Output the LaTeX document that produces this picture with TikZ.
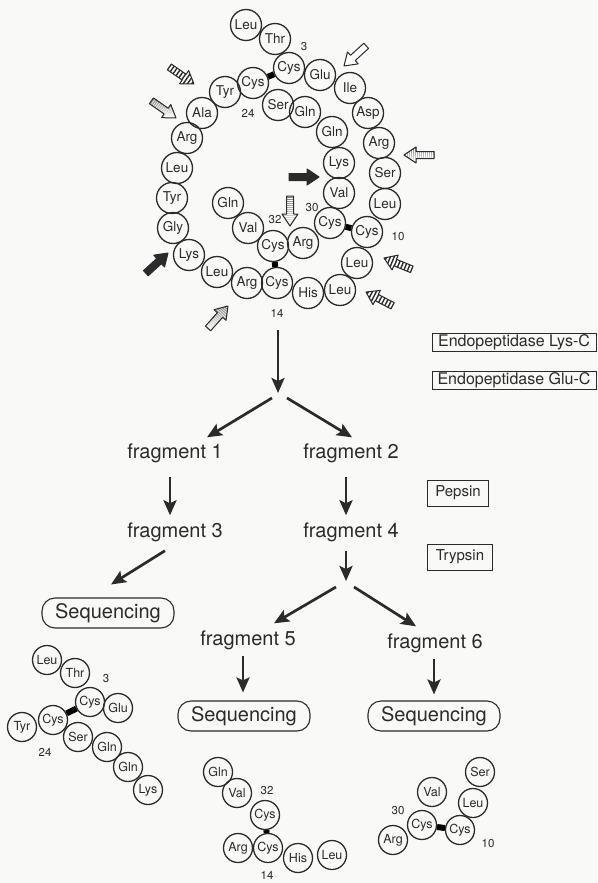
\documentclass[tikz,border=0pt]{standalone}
\usepackage{fontspec}
\setmainfont{TeX Gyre Heros}
\usetikzlibrary{arrows.meta,calc}
\definecolor{ink}{HTML}{2B2B2B}
\definecolor{paper}{HTML}{F9F9F7}
\definecolor{shade}{HTML}{8C8C8C}

% block arrow pointing along +x, tip at the origin
\newcommand{\markpath}{(0,0) -- (-12,-8) -- (-12,-3.5) -- (-30,-3.5) -- (-30,3.5) -- (-12,3.5) -- (-12,8) -- cycle}
% cleavage mark: tip, direction, fill
\newcommand{\cutmark}[3]{%
  \begin{scope}[shift={#1},rotate=#2]
    \filldraw[fill=#3,draw=ink,line width=1pt,line join=round] \markpath;
  \end{scope}}
% striped cleavage mark: tip, direction, fill, stripe style, second stripe position
\newcommand{\stripemark}[5]{%
  \begin{scope}[shift={#1},rotate=#2]
    \fill[#3] \markpath;
    \begin{scope}
      \clip \markpath;
      \foreach \s in {-30,#5,...,0} \draw[#4] (\s,-9) -- (\s,9);
    \end{scope}
    \draw[ink,line width=1pt,line join=round] \markpath;
  \end{scope}}

\begin{document}
\begin{tikzpicture}[x=1pt,y=-1pt,>={Stealth[length=15pt,width=13pt,inset=3pt]}]
\tikzset{
  res/.style={circle,draw=ink,line width=1.3pt,minimum size=31pt,inner sep=0pt,
    font=\fontsize{13.5}{13.5}\selectfont,text=ink},
  ressm/.style={res,minimum size=29pt,font=\fontsize{12.5}{12.5}\selectfont},
  num/.style={font=\fontsize{11.5}{11.5}\selectfont,text=ink,inner sep=0pt},
  bond/.style={line width=6pt,black},
  frag/.style={font=\fontsize{20}{22}\selectfont,text=ink,inner sep=2pt},
  seqbox/.style={draw=ink,line width=1.1pt,rounded corners=13pt,minimum width=132pt,
    minimum height=30pt,font=\fontsize{20}{22}\selectfont,text=ink,inner sep=0pt},
  enzyme/.style={draw=ink,line width=1pt,font=\fontsize{16}{16}\selectfont,text=ink,
    inner sep=0pt,minimum height=18pt,minimum width=164pt},
  agent/.style={draw=ink,line width=1pt,font=\fontsize{15}{15}\selectfont,text=ink,
    inner xsep=8pt,minimum height=26pt},
  flow/.style={->,ink,line width=2.7pt}
}
\useasboundingbox (0,0) rectangle (597,883);
\fill[paper] (0,0) rectangle (597,883);

% the cyclic peptide
\foreach \n/\aa/\x/\y in {1/Leu/246/25,2/Thr/275/39,3/Cys/289/68,4/Glu/320/75,
  5/Ile/350/88,6/Asp/368/113,7/Arg/379/143,8/Ser/385/173,9/Leu/385/204,
  10/Cys/367/232,11/Leu/357/263,12/Leu/340/290,13/His/308/293,14/Cys/277/283,
  15/Arg/247/283,16/Leu/217/272,17/Lys/189/255,18/Gly/173/228,19/Tyr/172/198,
  20/Leu/177/168,21/Arg/187/138,22/Ala/202/113,23/Tyr/225/92,24/Cys/253/83,
  25/Ser/278/105,26/Gln/305/112,27/Gln/332/132,28/Lys/339/163,29/Val/339/193,
  30/Cys/330/223,31/Arg/303/243,32/Cys/273/246,33/Val/248/228,34/Gln/228/203}
  \node[res] (r\n) at (\x,\y) {\aa};
\draw[bond] (r24) -- (r3);
\draw[bond] (r30) -- (r10);
\draw[bond] (r32) -- (r14);
\node[num] (n3) at (304,47) {3};
\node[num] (n24) at (248,113) {24};
\node[num] (n32) at (275,220) {32};
\node[num] (n30) at (312,208) {30};
\node[num] (n10) at (398,237) {10};
\node[num] (n14) at (277,313) {14};

% cleavage sites
\stripemark{(194,84)}{-34.7}{white}{ink,line width=1.4pt}{-26.5}
\stripemark{(384,258)}{157.8}{white}{ink,line width=1.4pt}{-26.5}
\stripemark{(366,292)}{152.6}{white}{ink,line width=1.4pt}{-26.5}
\stripemark{(176,118)}{-35}{shade}{white,line width=.5pt}{-28}
\stripemark{(404,155)}{180}{shade}{white,line width=.5pt}{-28}
\stripemark{(290,226)}{-90}{shade}{white,line width=.5pt}{-28}
\stripemark{(228,306)}{48.4}{shade}{white,line width=.5pt}{-28}
\cutmark{(344,66)}{222.3}{white}
\cutmark{(319,177)}{0}{ink}
\cutmark{(168,253)}{42.3}{ink}

% digestion scheme
\node[enzyme] (lysc) at (514,342) {Endopeptidase Lys-C};
\node[enzyme] (gluc) at (514,380) {Endopeptidase Glu-C};
\node[agent] (pepsin) at (458,493) {Pepsin};
\node[agent] (trypsin) at (460,557) {Trypsin};

\coordinate (split1) at (278,393);
\coordinate (split2) at (346,581);
\node[frag] (frag1) at (175,453) {fragment 1};
\node[frag] (frag2) at (351,453) {fragment 2};
\node[frag] (frag3) at (175,532) {fragment 3};
\node[frag] (frag4) at (351,532) {fragment 4};
\node[frag] (frag5) at (248,640) {fragment 5};
\node[frag] (frag6) at (435,643) {fragment 6};
\node[seqbox] (seq3) at (108,613) {Sequencing};
\node[seqbox] (seq5) at (244,716) {Sequencing};
\node[seqbox] (seq6) at (434,716) {Sequencing};

\draw[flow] ($(n14.south)+(1,13)$) -- (split1);
\draw[flow] ($(split1)+(-6,5)$) -- ($(frag1.north)+(32,-4)$);
\draw[flow] ($(split1)+(9,5)$) -- ($(frag2.north)+(1,-4)$);
\draw[flow] ($(frag1.south)+(-5,12)$) -- ($(frag3.north)+(-5,-5)$);
\draw[flow] ($(frag2.south)+(-5,12)$) -- ($(frag4.north)+(-5,-5)$);
\draw[flow] ($(frag3.south)+(-10,7)$) -- ($(seq3.north)+(3,-13)$);
\draw[flow] ($(frag4.south)+(-5,7)$) -- (split2);
\draw[flow] ($(split2)+(-10,6)$) -- ($(frag5.north)+(26,-5)$);
\draw[flow] ($(split2)+(8,6)$) -- ($(frag6.north)+(-19,-5)$);
\draw[flow] ($(frag5.south)+(-5,4)$) -- ($(seq5.north)+(-1,-8)$);
\draw[flow] ($(frag6.south)+(-1,4)$) -- ($(seq6.north)+(0,-6)$);

% fragment 3 after sequencing
\foreach \n/\aa/\x/\y in {1/Leu/47/660,2/Thr/75/673,3/Cys/90/702,4/Glu/118/708,
  23/Tyr/22/727,24/Cys/53/720,25/Ser/78/737,26/Gln/107/747,27/Gln/128/767,28/Lys/148/790}
  \node[ressm] (a\n) at (\x,\y) {\aa};
\draw[bond] (a24) -- (a3);
\node[num] (m3) at (106,679) {3};
\node[num] (m24) at (45,752) {24};

% fragment 5
\foreach \n/\aa/\x/\y in {34/Gln/218/772,33/Val/237/793,32/Cys/265/815,
  15/Arg/238/848,14/Cys/268/848,13/His/298/858,12/Leu/332/855}
  \node[ressm] (b\n) at (\x,\y) {\aa};
\draw[bond] (b32) -- (b14);
\node[num] (k32) at (267,790) {32};
\node[num] (k14) at (267,875) {14};

% fragment 6
\foreach \n/\aa/\x/\y in {8/Ser/480/772,9/Leu/473/803,10/Cys/460/830,
  29/Val/432/792,30/Cys/422/825,31/Arg/393/840}
  \node[ressm] (c\n) at (\x,\y) {\aa};
\draw[bond] (c30) -- (c10);
\node[num] (j30) at (398,810) {30};
\node[num] (j10) at (488,843) {10};
\end{tikzpicture}
\end{document}
